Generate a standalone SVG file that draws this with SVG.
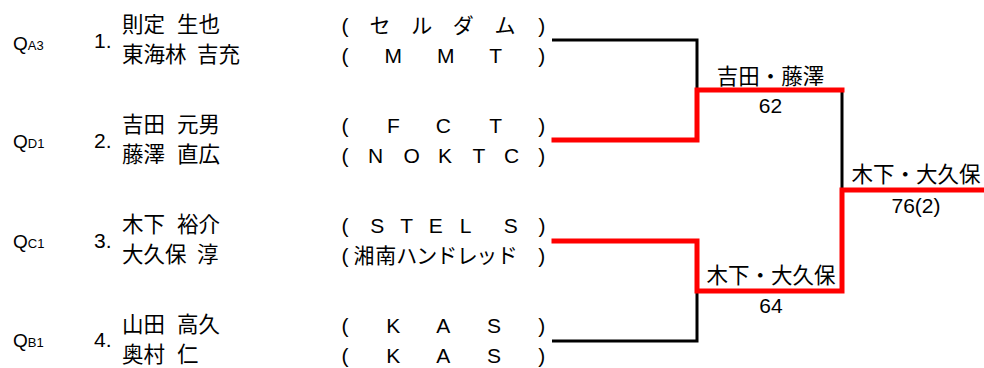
<svg xmlns="http://www.w3.org/2000/svg" width="984" height="368" viewBox="0 0 984 368">
<style>
text{font-family:"Liberation Sans","Noto Sans CJK JP",sans-serif;fill:#000}
.q{font-size:19px}
.qs{font-size:13px}
.num{font-size:21px}
.name{font-size:21.5px;font-family:"Noto Sans CJK JP",sans-serif}
.team{font-size:21px;text-anchor:middle}
.lbl{font-size:21.5px;text-anchor:middle;font-family:"Noto Sans CJK JP",sans-serif}
.score{font-size:21px;text-anchor:middle}
.blk{fill:none;stroke:#000;stroke-width:3}
.red{fill:none;stroke:#f00;stroke-width:5;stroke-linejoin:miter;stroke-linecap:square}
</style>
<rect width="984" height="368" fill="#fff"/>
<g id="connectors">
<path class="blk" d="M552,40 H697 V90"/>
<path class="blk" d="M552,341 H697 V291"/>
<path class="blk" d="M842,90 V190"/>
<path class="red" d="M554,140 H697 V90 H842"/>
<path class="red" d="M554,241 H697 V291 H842 V190 H984"/>
</g>
<g id="entry1">
<text x="13" y="49.5" class="q">Q<tspan class="qs">A3</tspan></text>
<text x="94" y="48" class="num">1.</text>
<text x="122" y="32" class="name">則定 <tspan x="177">生也</tspan></text>
<text x="122" y="62" class="name">東海林 <tspan x="197">吉充</tspan></text>
<text y="33" class="team" x="345 362 380 400 421.7 442 463.3 484 505 523 541.7">( セ ル ダ ム )</text>
<text y="63" class="team" x="345 369 393.3 419 445.7 470 495.7 518 541.7">( M M T )</text>
</g>
<g id="entry2">
<text x="13" y="148" class="q">Q<tspan class="qs">D1</tspan></text>
<text x="94" y="148" class="num">2.</text>
<text x="122" y="132" class="name">吉田 <tspan x="177">元男</tspan></text>
<text x="122" y="162" class="name">藤澤 <tspan x="177">直広</tspan></text>
<text y="133" class="team" x="345 369 393.3 418 443.3 469 495.7 518 541.7">( F C T )</text>
<text y="163" class="team" x="345 360 375.7 393 411.7 428 445 462 479 495 511.7 527 541.7">( N O K T C )</text>
</g>
<g id="entry3">
<text x="13" y="248" class="q">Q<tspan class="qs">C1</tspan></text>
<text x="94" y="248" class="num">3.</text>
<text x="122" y="232" class="name">木下 <tspan x="177">裕介</tspan></text>
<text x="122" y="262" class="name">大久保 <tspan x="197">淳</tspan></text>
<text y="233" class="team" x="345 361 377.3 392 406.7 421 435.7 451 465.7 488 510.7 526 542">( S T E L S )</text>
<text y="263" class="team" x="345 364 385.7 406.7 426.7 446.7 467.3 486.7 507.3 541.7">(湘南ハンドレッド)</text>
</g>
<g id="entry4">
<text x="13" y="347" class="q">Q<tspan class="qs">B1</tspan></text>
<text x="94" y="347" class="num">4.</text>
<text x="122" y="332" class="name">山田 <tspan x="177">高久</tspan></text>
<text x="122" y="362" class="name">奥村 <tspan x="177">仁</tspan></text>
<text y="333" class="team" x="345 369 393.3 418 443.3 469 494 518 541.7">( K A S )</text>
<text y="363" class="team" x="345 369 393.3 418 443.3 469 494 518 541.7">( K A S )</text>
</g>
<g id="match1">
<text x="770.5" y="83.5" class="lbl">吉田・藤澤</text>
<text x="770.5" y="113" class="score">62</text>
</g>
<g id="match2">
<text x="771" y="282.5" class="lbl">木下・大久保</text>
<text x="771" y="313" class="score">64</text>
</g>
<g id="final">
<text x="916" y="182" class="lbl">木下・大久保</text>
<text x="916" y="213" class="score">76(2)</text>
</g>
</svg>
